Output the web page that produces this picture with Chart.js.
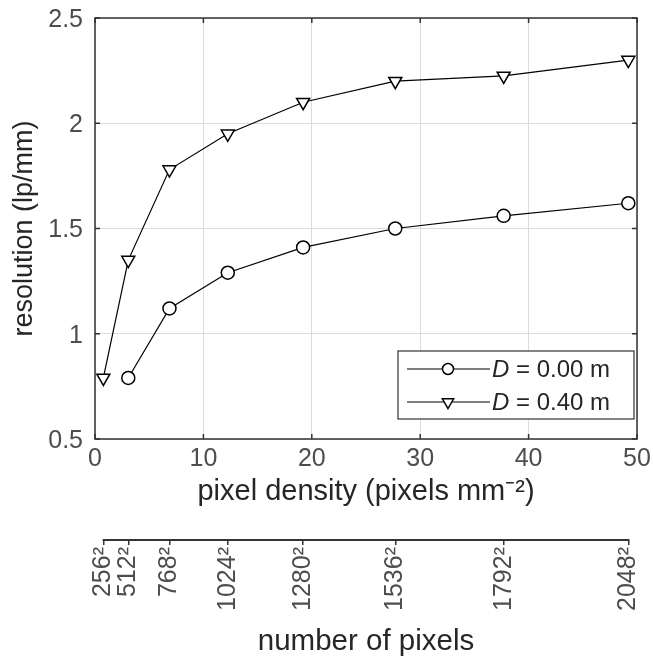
<!DOCTYPE html>
<html><head><meta charset="utf-8">
<script src="https://cdn.jsdelivr.net/npm/chart.js@4"></script>
<style>html,body{margin:0;padding:0;background:#fff}#wrap{width:653px;height:662px}</style>
</head><body><div id="wrap"><canvas id="c" width="653" height="662"></canvas></div>
<script>
const densities = [0.77, 3.07, 6.87, 12.25, 19.2, 27.7, 37.7, 49.2];
const pixelCountLabels = ['256²', '512²', '768²', '1024²', '1280²', '1536²', '1792²', '2048²'];
const resolutionD000 = [null, 0.79, 1.12, 1.29, 1.41, 1.50, 1.56, 1.62];
const resolutionD040 = [0.79, 1.35, 1.78, 1.95, 2.10, 2.20, 2.225, 2.30];
const seriesLabels = ['D = 0.00 m', 'D = 0.40 m'];
const xTicks = [0, 10, 20, 30, 40, 50];
const yTicks = [0.5, 1, 1.5, 2, 2.5];

const FAMILY = "'Liberation Sans', Arial, Helvetica, sans-serif";
const toPoints = (ys) => ys.map((y, i) => (y == null ? null : { x: densities[i], y })).filter(Boolean);
const noPad = s => { s.paddingTop = 0; s.paddingBottom = 0; s.paddingLeft = 0; s.paddingRight = 0; };

const framePlugin = {
  id: 'frame',
  afterDraw(chart) {
    const { ctx, chartArea: a, scales } = chart;
    ctx.save();
    ctx.strokeStyle = '#333';
    ctx.lineWidth = 1.5;
    // inward ticks
    const tl = 5;
    ctx.beginPath();
    xTicks.forEach(v => {
      const px = scales.x.getPixelForValue(v);
      ctx.moveTo(px, a.bottom); ctx.lineTo(px, a.bottom - tl);
      ctx.moveTo(px, a.top); ctx.lineTo(px, a.top + tl);
    });
    yTicks.forEach(v => {
      const py = scales.y.getPixelForValue(v);
      ctx.moveTo(a.left, py); ctx.lineTo(a.left + tl, py);
      ctx.moveTo(a.right, py); ctx.lineTo(a.right - tl, py);
    });
    ctx.stroke();
    ctx.strokeRect(a.left, a.top, a.right - a.left, a.bottom - a.top);
    // secondary axis line (spans first to last pixel-count tick)
    const s2 = scales.x2;
    ctx.lineWidth = 2;
    ctx.beginPath();
    ctx.moveTo(s2.getPixelForValue(densities[0]) - 0.75, s2.top + 1);
    ctx.lineTo(s2.getPixelForValue(densities[densities.length - 1]) + 0.75, s2.top + 1);
    ctx.stroke();

    // legend
    const w = 236, h = 68;
    const bx = a.right - 3 - w, by = a.bottom - 20 - h;
    ctx.fillStyle = '#fff';
    ctx.fillRect(bx, by, w, h);
    ctx.lineWidth = 1.2;
    ctx.strokeStyle = '#333';
    ctx.strokeRect(bx, by, w, h);
    chart.data.datasets.forEach((ds, i) => {
      const cy = by + 18 + i * 33;
      ctx.strokeStyle = '#000';
      ctx.lineWidth = 1.2;
      ctx.beginPath();
      ctx.moveTo(bx + 9, cy); ctx.lineTo(bx + 92, cy);
      ctx.stroke();
      ctx.fillStyle = '#fff';
      ctx.lineWidth = 1.5;
      const opts = { pointStyle: ds.pointStyle, rotation: ds.pointRotation || 0, radius: ds.pointStyle === 'circle' ? 5.5 : 6.5, borderWidth: 1.5 };
      if (Chart.helpers && Chart.helpers.drawPoint) {
        Chart.helpers.drawPoint(ctx, opts, bx + 50, cy);
      }
      const label = ds.label;
      ctx.fillStyle = '#262626';
      ctx.textBaseline = 'middle';
      ctx.textAlign = 'left';
      ctx.font = 'italic 24px ' + FAMILY;
      const tx = bx + 94;
      ctx.fillText(label.charAt(0), tx, cy + 1);
      const dw = ctx.measureText(label.charAt(0)).width;
      ctx.font = '24px ' + FAMILY;
      ctx.fillText(label.slice(1), tx + dw, cy + 1);
    });
    ctx.restore();
  }
};

new Chart(document.getElementById('c'), {
  type: 'line',
  data: {
    datasets: [
      {
        label: seriesLabels[0],
        data: toPoints(resolutionD000),
        borderColor: '#000', borderWidth: 1.2,
        pointStyle: 'circle', pointRadius: 6.5,
        pointBackgroundColor: '#fff', pointBorderColor: '#000', pointBorderWidth: 1.5,
        tension: 0, fill: false
      },
      {
        label: seriesLabels[1],
        data: toPoints(resolutionD040),
        borderColor: '#000', borderWidth: 1.2,
        pointStyle: 'triangle', pointRotation: 180, pointRadius: 7.5,
        pointBackgroundColor: '#fff', pointBorderColor: '#000', pointBorderWidth: 1.5,
        tension: 0, fill: false
      }
    ]
  },
  options: {
    responsive: false,
    animation: false,
    devicePixelRatio: 1,
    layout: { padding: { top: 18, right: 16, left: 0, bottom: 0 } },
    plugins: { legend: { display: false }, tooltip: { enabled: false } },
    scales: {
      x: {
        type: 'linear', position: 'bottom', min: 0, max: 50, weight: 0,
        afterBuildTicks: s => { s.ticks = xTicks.map(v => ({ value: v })); },
        grid: { color: '#dcdcdc', lineWidth: 1, drawTicks: false },
        border: { display: false },
        ticks: { font: { family: FAMILY, size: 25 }, color: '#4d4d4d', padding: 5, maxRotation: 0, autoSkip: false },
        title: { display: true, text: 'pixel density (pixels mm⁻²)', font: { family: FAMILY, size: 29 }, color: '#262626', padding: { top: 0, bottom: 30 } },
        afterFit: s => { s.height = 100; noPad(s); }
      },
      x2: {
        type: 'linear', position: 'bottom', min: 0, max: 50, weight: 1,
        afterBuildTicks: s => { s.ticks = densities.map(v => ({ value: v })); },
        grid: { display: true, drawOnChartArea: false, drawTicks: true, tickLength: 6, color: '#333', lineWidth: 1.5 },
        border: { display: false },
        ticks: {
          autoSkip: false, minRotation: 90, maxRotation: 90, padding: 2,
          font: { family: FAMILY, size: 25 }, color: '#4d4d4d',
          callback: (v, i) => pixelCountLabels[i]
        },
        title: { display: true, text: 'number of pixels', font: { family: FAMILY, size: 29.5 }, color: '#262626', padding: { top: 0, bottom: 2 } },
        afterFit: s => { s.height = 123; noPad(s); }
      },
      y: {
        type: 'linear', min: 0.5, max: 2.5,
        afterBuildTicks: s => { s.ticks = yTicks.map(v => ({ value: v })); },
        grid: { color: '#dcdcdc', lineWidth: 1, drawTicks: false },
        border: { display: false },
        ticks: { font: { family: FAMILY, size: 25 }, color: '#4d4d4d', padding: 12, labelOffset: 2, callback: v => String(v) },
        title: { display: true, text: 'resolution (lp/mm)', font: { family: FAMILY, size: 27 }, color: '#262626', padding: { top: 8, bottom: 0 } },
        afterFit: s => { s.width = 95; noPad(s); }
      }
    }
  },
  plugins: [framePlugin]
});
</script>
</body></html>
